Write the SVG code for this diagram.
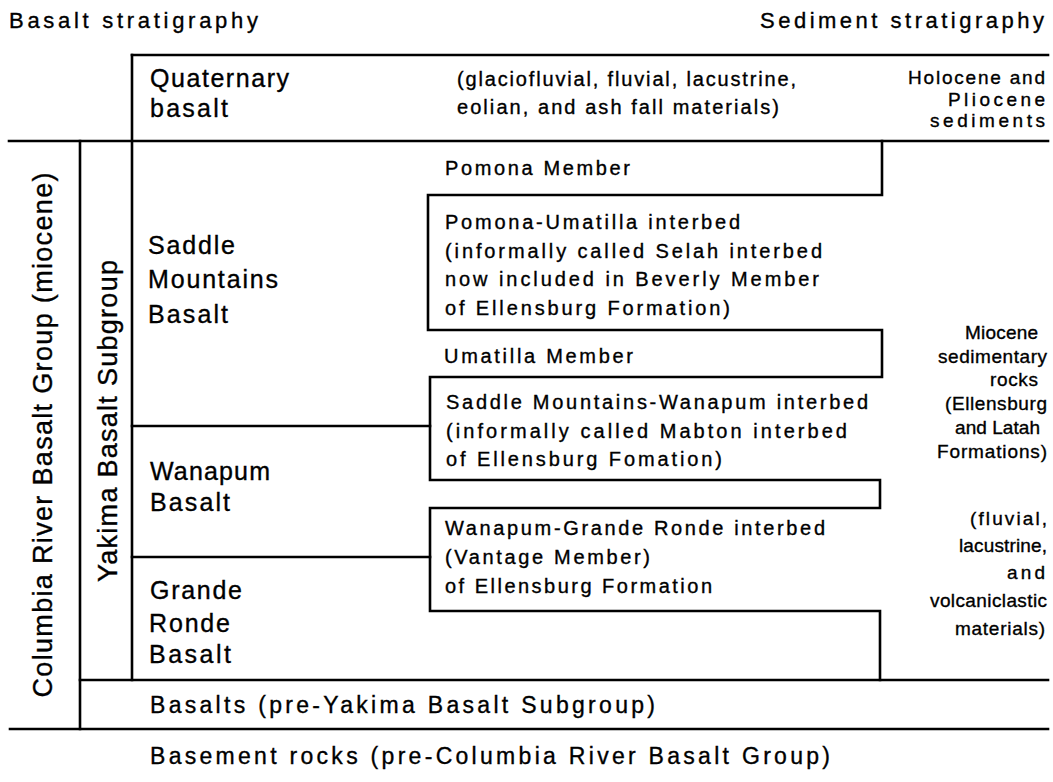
<svg xmlns="http://www.w3.org/2000/svg" width="1053" height="782" viewBox="0 0 1053 782">
<style>
text{font-family:"Liberation Sans",Arial,Helvetica,sans-serif;fill:#000;stroke:#000;stroke-width:0.35}
.t{font-size:22px}
.b{font-size:25px}
.m{font-size:20px}
.r{font-size:19px;text-anchor:end}
.v{font-size:27px;text-anchor:middle}
.l{font-size:23px}
.ln{fill:none;stroke:#000;stroke-width:2.6;stroke-linecap:square}
</style>
<rect width="1053" height="782" fill="#fff"/>
<g id="connectors">
<path class="ln" d="M132,55 H1048"/>
<path class="ln" d="M9,141 H1048"/>
<path class="ln" d="M80,141 V729"/>
<path class="ln" d="M132,55 V680"/>
<path class="ln" d="M80,680 H1048"/>
<path class="ln" d="M10,729 H1048"/>
<path class="ln" d="M882,141 V195 H428 V330 H882 V377 H430 V480 H880 V508 H430 V611 H880 V680"/>
<path class="ln" d="M132,426 H430"/>
<path class="ln" d="M132,557 H430"/>
</g>
<g id="headers">
<text class="t" x="9" y="28" textLength="249" lengthAdjust="spacing">Basalt stratigraphy</text>
<text class="t" x="760" y="28" textLength="284" lengthAdjust="spacing">Sediment stratigraphy</text>
</g>
<g id="quaternary-basalt">
<text class="b" x="150" y="87" textLength="139" lengthAdjust="spacing">Quaternary</text>
<text class="b" x="150" y="117" textLength="78" lengthAdjust="spacing">basalt</text>
</g>
<g id="quaternary-sediments">
<text class="m" x="457" y="86" textLength="339" lengthAdjust="spacing">(glaciofluvial, fluvial, lacustrine,</text>
<text class="m" x="457" y="114" textLength="322" lengthAdjust="spacing">eolian, and ash fall materials)</text>
</g>
<g id="holocene-pliocene">
<text class="r" x="1045" y="84" textLength="137" lengthAdjust="spacing">Holocene and</text>
<text class="r" x="1045" y="106" textLength="97" lengthAdjust="spacing">Pliocene</text>
<text class="r" x="1045" y="127" textLength="115" lengthAdjust="spacing">sediments</text>
</g>
<g id="columbia-river-basalt-group">
<text class="v" transform="translate(52,435) rotate(-90)" textLength="525" lengthAdjust="spacing">Columbia River Basalt Group (miocene)</text>
</g>
<g id="yakima-basalt-subgroup">
<text class="v" transform="translate(117,421) rotate(-90)" textLength="322" lengthAdjust="spacing">Yakima Basalt Subgroup</text>
</g>
<g id="saddle-mountains-basalt">
<text class="b" x="148" y="254" textLength="87" lengthAdjust="spacing">Saddle</text>
<text class="b" x="148" y="288" textLength="130" lengthAdjust="spacing">Mountains</text>
<text class="b" x="148" y="323" textLength="80" lengthAdjust="spacing">Basalt</text>
</g>
<g id="wanapum-basalt">
<text class="b" x="150" y="480" textLength="120" lengthAdjust="spacing">Wanapum</text>
<text class="b" x="150" y="511" textLength="80" lengthAdjust="spacing">Basalt</text>
</g>
<g id="grande-ronde-basalt">
<text class="b" x="150" y="599" textLength="92" lengthAdjust="spacing">Grande</text>
<text class="b" x="149" y="632" textLength="81" lengthAdjust="spacing">Ronde</text>
<text class="b" x="149" y="663" textLength="82" lengthAdjust="spacing">Basalt</text>
</g>
<g id="pomona-member">
<text class="m" x="445" y="175" textLength="185" lengthAdjust="spacing">Pomona Member</text>
</g>
<g id="pomona-umatilla-interbed">
<text class="m" x="445" y="229" textLength="295" lengthAdjust="spacing">Pomona-Umatilla interbed</text>
<text class="m" x="445" y="258" textLength="377" lengthAdjust="spacing">(informally called Selah interbed</text>
<text class="m" x="445" y="286" textLength="374" lengthAdjust="spacing">now included in Beverly Member</text>
<text class="m" x="445" y="315" textLength="285" lengthAdjust="spacing">of Ellensburg Formation)</text>
</g>
<g id="umatilla-member">
<text class="m" x="444" y="363" textLength="189" lengthAdjust="spacing">Umatilla Member</text>
</g>
<g id="saddle-mountains-wanapum-interbed">
<text class="m" x="446" y="409" textLength="422" lengthAdjust="spacing">Saddle Mountains-Wanapum interbed</text>
<text class="m" x="446" y="438" textLength="401" lengthAdjust="spacing">(informally called Mabton interbed</text>
<text class="m" x="446" y="466" textLength="276" lengthAdjust="spacing">of Ellensburg Fomation)</text>
</g>
<g id="wanapum-grande-ronde-interbed">
<text class="m" x="445" y="535" textLength="380" lengthAdjust="spacing">Wanapum-Grande Ronde interbed</text>
<text class="m" x="445" y="564" textLength="205" lengthAdjust="spacing">(Vantage Member)</text>
<text class="m" x="445" y="593" textLength="267" lengthAdjust="spacing">of Ellensburg Formation</text>
</g>
<g id="miocene-sedimentary-rocks">
<text class="r" x="1038" y="339" textLength="73" lengthAdjust="spacing">Miocene</text>
<text class="r" x="1047" y="363" textLength="109" lengthAdjust="spacing">sedimentary</text>
<text class="r" x="1038" y="386" textLength="48" lengthAdjust="spacing">rocks</text>
<text class="r" x="1047" y="410" textLength="102" lengthAdjust="spacing">(Ellensburg</text>
<text class="r" x="1040" y="434" textLength="85" lengthAdjust="spacing">and Latah</text>
<text class="r" x="1047" y="458" textLength="110" lengthAdjust="spacing">Formations)</text>
<text class="r" x="1047" y="525" textLength="77" lengthAdjust="spacing">(fluvial,</text>
<text class="r" x="1047" y="552" textLength="88" lengthAdjust="spacing">lacustrine,</text>
<text class="r" x="1045" y="579" textLength="38" lengthAdjust="spacing">and</text>
<text class="r" x="1047" y="607" textLength="117" lengthAdjust="spacing">volcaniclastic</text>
<text class="r" x="1045" y="635" textLength="90" lengthAdjust="spacing">materials)</text>
</g>
<g id="pre-yakima-basalts">
<text class="l" x="150" y="713" textLength="505" lengthAdjust="spacing">Basalts (pre-Yakima Basalt Subgroup)</text>
</g>
<g id="basement-rocks">
<text class="l" x="150" y="764" textLength="680" lengthAdjust="spacing">Basement rocks (pre-Columbia River Basalt Group)</text>
</g>
</svg>
